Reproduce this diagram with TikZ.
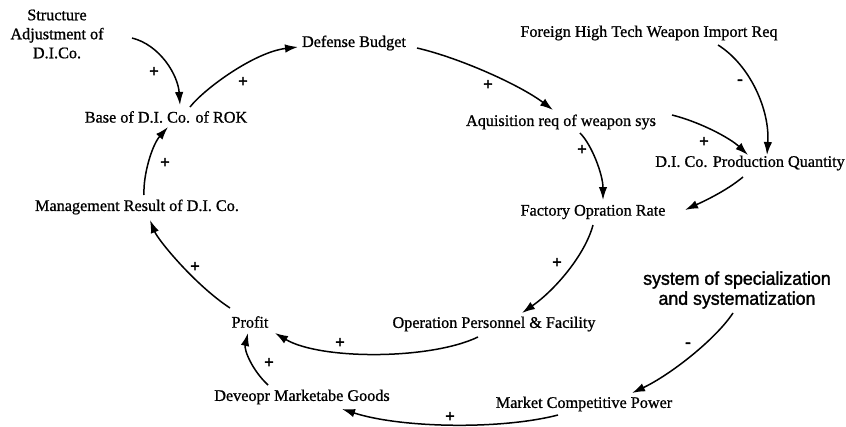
\documentclass[tikz,border=0pt]{standalone}
\usepackage{fontspec}
\setmainfont{Liberation Serif}
\newfontfamily\lblfont[FakeBold=0.9]{Liberation Serif}
\newfontfamily\sgnfont[FakeBold=3]{Liberation Serif}
\newfontfamily\sysfont[FakeBold=1.6,FakeStretch=0.96]{Liberation Sans}
\usetikzlibrary{arrows.meta}
\begin{document}
\begin{tikzpicture}[x=1pt,y=-1pt,
  lbl/.style={inner sep=1pt,font=\lblfont\fontsize{16.2}{19}\selectfont},
  sgn/.style={inner sep=0pt,font=\sgnfont\fontsize{17}{17}\selectfont},
  link/.style={line width=1.5pt,-{Latex[length=13pt,width=8.5pt]}}]
\useasboundingbox (0,0) rectangle (846,426);
% nodes
\node[lbl,align=center] (sa) at (57,34) {Structure\\Adjustment of\\D.I.Co.};
\node[lbl] (base) at (166,117) {Base of D.I. Co. of ROK};
\node[lbl] (def) at (354,43) {Defense Budget};
\node[lbl] (forn) at (649,33) {Foreign High Tech Weapon Import Req};
\node[lbl] (aq) at (561,122) {Aquisition req of weapon sys};
\node[lbl] (dipq) at (750,163) {D.I. Co. Production Quantity};
\node[lbl] (fac) at (593,212) {Factory Opration Rate};
\node[lbl] (mgmt) at (137,207) {Management Result of D.I. Co.};
\node[inner sep=1pt,align=center,font=\sysfont\fontsize{18.5}{20}\selectfont] (sys) at (737,290) {system of specialization\\and systematization};
\node[lbl] (profit) at (250,322) {Profit};
\node[lbl] (oper) at (494,324) {Operation Personnel \& Facility};
\node[lbl] (dev) at (302,397) {Deveopr Marketabe Goods};
\node[lbl] (mcp) at (584,404) {Market Competitive Power};
% connectors
\draw[link] ([shift={(75,4)}]sa.center) .. controls (160,45) and (178,75) .. ([shift={(14,-12)}]base.center);
\draw[link] ([shift={(24,-10)}]base.center) .. controls (205,88) and (255,52) .. ([shift={(-56,4)}]def.center);
\draw[link] ([shift={(63,5)}]def.center) .. controls (460,58) and (520,85) .. ([shift={(-8,-12)}]aq.center);
\draw[link] ([shift={(69,12)}]forn.center) .. controls (750,65) and (770,110) .. ([shift={(17,-8)}]dipq.center);
\draw[link] ([shift={(111,-7)}]aq.center) .. controls (700,122) and (730,138) .. ([shift={(-2,-8)}]dipq.center);
\draw[link] ([shift={(19,11)}]aq.center) .. controls (592,145) and (603,175) .. ([shift={(10,-12)}]fac.center);
\draw[link] ([shift={(-7,14)}]dipq.center) .. controls (725,192) and (700,203) .. ([shift={(92,-2)}]fac.center);
\draw[link] ([shift={(0,13)}]fac.center) .. controls (585,255) and (555,290) .. ([shift={(28,-11)}]oper.center);
\draw[link] ([shift={(-16,13)}]oper.center) .. controls (430,360) and (320,360) .. ([shift={(25,11)}]profit.center);
\draw[link] ([shift={(-20,-14)}]profit.center) .. controls (195,285) and (158,240) .. ([shift={(13,13)}]mgmt.center);
\draw[link] ([shift={(7,-12)}]mgmt.center) .. controls (143,175) and (152,145) .. ([shift={(2,10)}]base.center);
\draw[link] ([shift={(-4,23)}]sys.center) .. controls (715,340) and (670,375) .. ([shift={(48,-11)}]mcp.center);
\draw[link] ([shift={(-26,11)}]mcp.center) .. controls (500,430) and (400,428) .. ([shift={(40,12)}]dev.center);
\draw[link] ([shift={(-34,-12)}]dev.center) .. controls (252,370) and (244,350) .. ([shift={(-2,11)}]profit.center);
% signs
\node[sgn] (s1) at (154,72) {+};
\node[sgn] (s2) at (243,82) {+};
\node[sgn] (s3) at (488,85) {+};
\node[sgn] (s4) at (704,142) {+};
\node[sgn] (s5) at (582,150) {+};
\node[sgn] (s6) at (557,263) {+};
\node[sgn] (s7) at (340,343) {+};
\node[sgn] (s8) at (195,267) {+};
\node[sgn] (s9) at (165,163) {+};
\node[sgn] (s10) at (450,417) {+};
\node[sgn] (s11) at (269,363) {+};
\node[sgn] (m1) at (740,82) {-};
\node[sgn] (m2) at (688,345) {-};
\end{tikzpicture}
\end{document}
